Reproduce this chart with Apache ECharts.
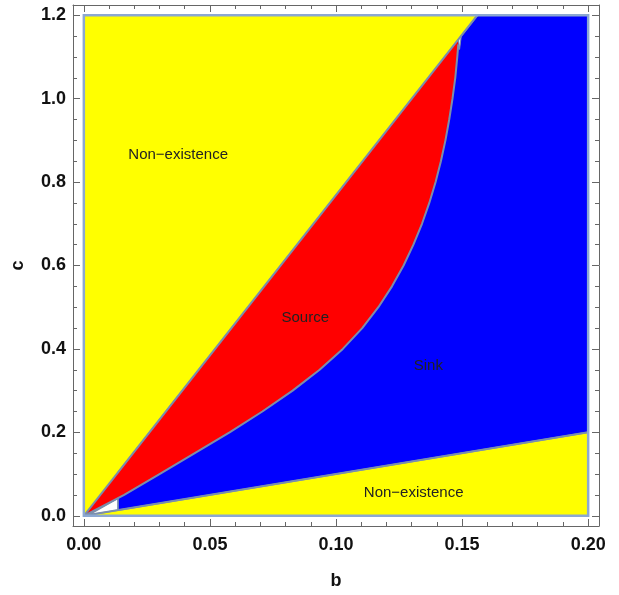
<!DOCTYPE html>
<html>
<head>
<meta charset="utf-8">
<script src="https://cdn.jsdelivr.net/npm/echarts@6/dist/echarts.min.js"></script>
<style>
html,body{margin:0;padding:0;background:#fff;}
#chart{width:619px;height:595px;}
</style>
</head>
<body>
<div id="chart"></div>
<script>
// ---- data ----
const bRange = [0, 0.2];
const cRange = [0, 1.2];
const bTicks = [0, 0.05, 0.10, 0.15, 0.20];
const bMinor = [0,0.01,0.02,0.03,0.04,0.05,0.06,0.07,0.08,0.09,0.10,0.11,0.12,0.13,0.14,0.15,0.16,0.17,0.18,0.19,0.20];
const cTicks = [0, 0.2, 0.4, 0.6, 0.8, 1.0, 1.2];
const cMinor = [0,0.05,0.1,0.15,0.2,0.25,0.3,0.35,0.4,0.45,0.5,0.55,0.6,0.65,0.7,0.75,0.8,0.85,0.9,0.95,1.0,1.05,1.1,1.15,1.2];
// upper existence boundary (through origin) and lower existence boundary
const upperLine = [[0, 0], [0.1561, 1.2]];
const lowerLine = [[0, 0], [0.2, 0.2]];
// source / sink boundary curve (b read at each c level)
const curveC = [0, 0.05, 0.10, 0.15, 0.20, 0.25, 0.30, 0.35, 0.40, 0.45, 0.50, 0.55, 0.60, 0.65, 0.70, 0.75, 0.80, 0.85, 0.90, 0.95, 1.00, 1.05, 1.10, 1.13];
const curveB = [0, 0.0160, 0.0300, 0.0440, 0.0578, 0.0708, 0.0828, 0.0935, 0.1027, 0.1104, 0.1168, 0.1222, 0.1268, 0.1307, 0.1341, 0.1370, 0.1395, 0.1416, 0.1434, 0.1449, 0.1462, 0.1473, 0.1481, 0.1485];
// sink region begins at this b
const sinkStartB = 0.0135;
// small unresolved slivers
const gapLow = [[0.002, 0.002], [0.0135, 0.0135], [0.0135, 0.042]];
const gapTop = [[0.1485, 1.1415], [0.1497, 1.1507], [0.1490, 1.118]];
const regionNames = ['Non\u2212existence', 'Source', 'Sink', 'Non\u2212existence'];
const regionB = [0.0374, 0.0878, 0.1366, 0.1308];
const regionC = [0.865, 0.474, 0.360, 0.056];

// ---- derived ----
const slopeUp = upperLine[1][1] / upperLine[1][0];
const slopeLow = lowerLine[1][1] / lowerLine[1][0];
const curve = curveB.map((b, i) => [b, curveC[i]]);
const bTop = curveB[curveB.length - 1];
const redPoly = [[0, 0], [bTop, bTop * slopeUp]].concat(curve.slice().reverse());
const bluePoly = [[sinkStartB, sinkStartB * slopeLow], [bRange[1], bRange[1] * slopeLow], [bRange[1], cRange[1]], [upperLine[1][0], cRange[1]], [sinkStartB, sinkStartB * slopeUp]];
const rectPoly = [[bRange[0], cRange[0]], [bRange[1], cRange[0]], [bRange[1], cRange[1]], [bRange[0], cRange[1]]];

const padB = 0.0043, padC = 0.0245;
const FONT = '"Liberation Sans", Arial, Helvetica, sans-serif';
const edgeColor = 'rgb(122,142,172)';
const frameColor = '#666';

function polySeries(pts, style, z) {
  return {
    type: 'custom', xAxisIndex: 0, yAxisIndex: 0, z: z, silent: true,
    data: [[pts[0][0], pts[0][1]]],
    renderItem: function (params, api) {
      return { type: 'polygon', shape: { points: pts.map(p => api.coord(p)) }, style: style };
    }
  };
}
function lineSeries(pts, style, z) {
  return {
    type: 'custom', xAxisIndex: 0, yAxisIndex: 0, z: z, silent: true,
    data: [[pts[0][0], pts[0][1]]],
    renderItem: function (params, api) {
      return { type: 'polyline', shape: { points: pts.map(p => api.coord(p)) }, style: style };
    }
  };
}

const xBase = { type: 'value', min: bRange[0] - padB, max: bRange[1] + padB, splitLine: { show: false }, gridIndex: 0 };
const yBase = { type: 'value', min: cRange[0] - padC, max: cRange[1] + padC, splitLine: { show: false }, gridIndex: 0 };
const lineOn = { show: true, onZero: false, lineStyle: { color: frameColor, width: 1 } };
const lineOff = { show: false, onZero: false };

const option = {
  animation: false,
  backgroundColor: '#fff',
  grid: { left: 73, right: 20, top: 5, bottom: 66 },
  xAxis: [
    Object.assign({}, xBase, {
      position: 'bottom',
      name: 'b', nameLocation: 'middle', nameGap: 46,
      nameTextStyle: { fontFamily: FONT, fontWeight: 'bold', fontSize: 18, color: '#111' },
      axisLine: lineOn,
      axisTick: { show: true, inside: true, length: 7, customValues: bTicks, lineStyle: { color: frameColor } },
      axisLabel: { show: true, customValues: bTicks, margin: 10, formatter: v => v.toFixed(2), fontFamily: FONT, fontWeight: 'bold', fontSize: 18, color: '#111' }
    }),
    Object.assign({}, xBase, {
      position: 'bottom',
      axisLine: lineOff,
      axisTick: { show: true, inside: true, length: 4, customValues: bMinor, lineStyle: { color: frameColor } },
      axisLabel: { show: false }
    }),
    Object.assign({}, xBase, {
      position: 'top',
      axisLine: lineOn,
      axisTick: { show: true, inside: true, length: 7, customValues: bTicks, lineStyle: { color: frameColor } },
      axisLabel: { show: false }
    }),
    Object.assign({}, xBase, {
      position: 'top',
      axisLine: lineOff,
      axisTick: { show: true, inside: true, length: 4, customValues: bMinor, lineStyle: { color: frameColor } },
      axisLabel: { show: false }
    })
  ],
  yAxis: [
    Object.assign({}, yBase, {
      position: 'left',
      name: 'c', nameLocation: 'middle', nameGap: 46, nameRotate: 90,
      nameTextStyle: { fontFamily: FONT, fontWeight: 'bold', fontSize: 18, color: '#111' },
      axisLine: lineOn,
      axisTick: { show: true, inside: true, length: 7, customValues: cTicks, lineStyle: { color: frameColor } },
      axisLabel: { show: true, customValues: cTicks, margin: 7, formatter: v => v.toFixed(1), fontFamily: FONT, fontWeight: 'bold', fontSize: 18, color: '#111' }
    }),
    Object.assign({}, yBase, {
      position: 'left',
      axisLine: lineOff,
      axisTick: { show: true, inside: true, length: 4, customValues: cMinor, lineStyle: { color: frameColor } },
      axisLabel: { show: false }
    }),
    Object.assign({}, yBase, {
      position: 'right',
      axisLine: lineOn,
      axisTick: { show: true, inside: true, length: 7, customValues: cTicks, lineStyle: { color: frameColor } },
      axisLabel: { show: false }
    }),
    Object.assign({}, yBase, {
      position: 'right',
      axisLine: lineOff,
      axisTick: { show: true, inside: true, length: 4, customValues: cMinor, lineStyle: { color: frameColor } },
      axisLabel: { show: false }
    })
  ],
  series: [
    polySeries(rectPoly, { fill: '#ffff00' }, 1),
    polySeries(bluePoly, { fill: '#0000ff', stroke: edgeColor, lineWidth: 1.5 }, 2),
    polySeries(gapLow, { fill: '#ffffff', stroke: edgeColor, lineWidth: 1.5 }, 3),
    polySeries(redPoly, { fill: '#ff0000' }, 4),
    polySeries(gapTop, { fill: '#dfe8f8', stroke: edgeColor, lineWidth: 1 }, 5),
    lineSeries(curve, { fill: null, stroke: edgeColor, lineWidth: 2, lineJoin: 'round' }, 6),
    lineSeries([upperLine[0], upperLine[1]], { fill: null, stroke: edgeColor, lineWidth: 2 }, 6),
    lineSeries([lowerLine[0], lowerLine[1]], { fill: null, stroke: edgeColor, lineWidth: 2 }, 6),
    polySeries(rectPoly, { fill: null, stroke: 'rgb(140,168,210)', lineWidth: 2.5 }, 7),
    {
      type: 'custom', xAxisIndex: 0, yAxisIndex: 0, z: 8, silent: true,
      data: regionNames.map((n, i) => [regionB[i], regionC[i]]),
      renderItem: function (params, api) {
        const p = api.coord([api.value(0), api.value(1)]);
        return {
          type: 'text', x: p[0], y: p[1],
          style: { text: regionNames[params.dataIndex], fill: '#222', font: '15px ' + FONT, align: 'center', verticalAlign: 'middle' }
        };
      }
    }
  ]
};
const chart = echarts.init(document.getElementById('chart'), null, { renderer: 'canvas' });
chart.setOption(option);
</script>
</body>
</html>
